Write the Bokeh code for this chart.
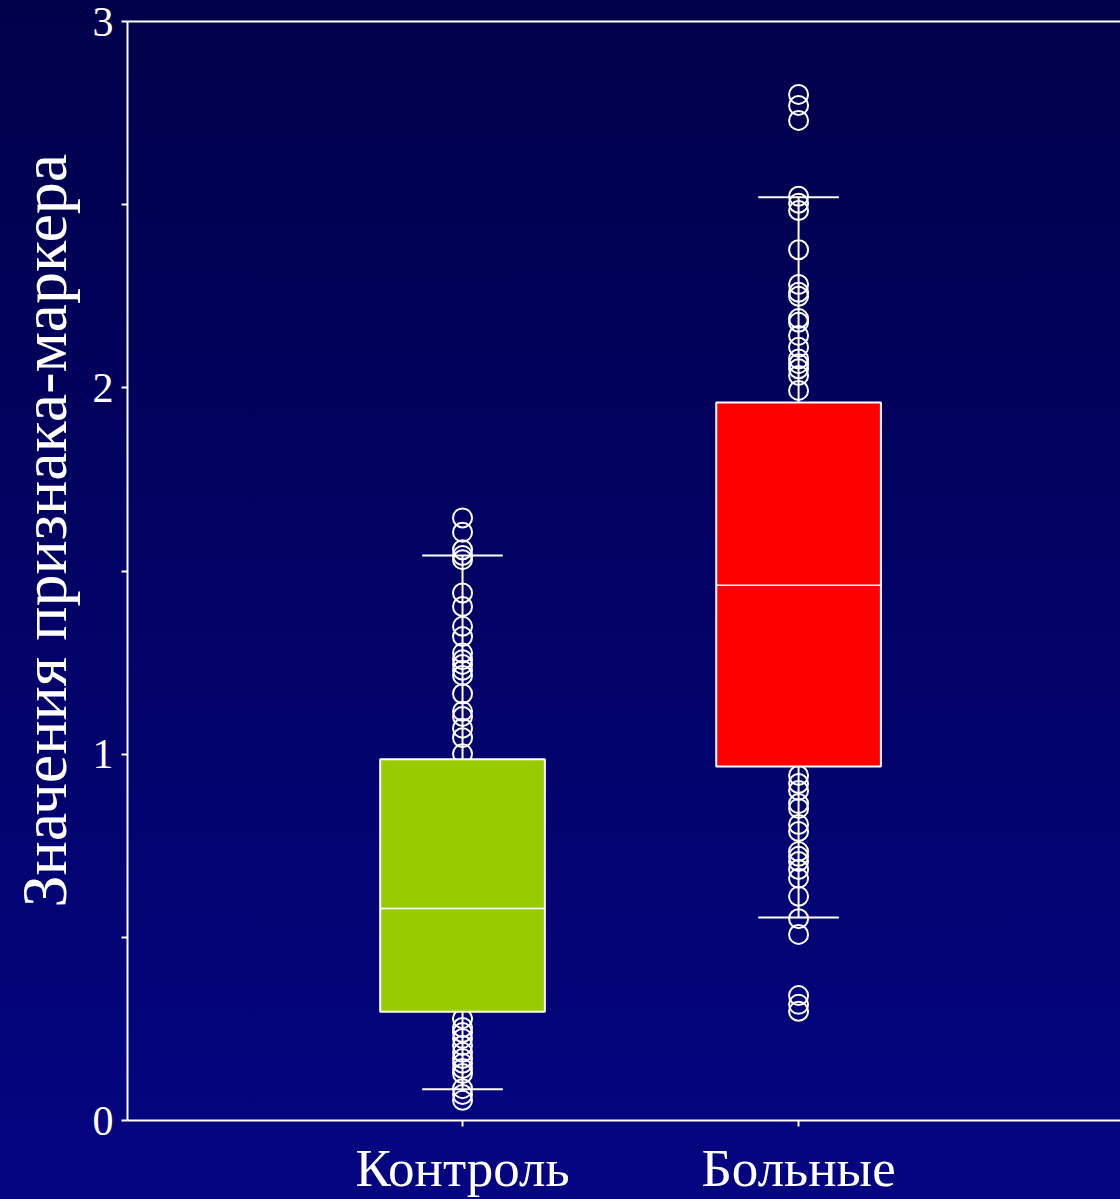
from bokeh.plotting import figure
from bokeh.models import Range1d, FixedTicker, LinearAxis, Title
from bokeh.embed import file_html
from bokeh.resources import INLINE

categories = ["Контроль", "Больные"]
positions = [1, 2]
box_colors = ["#99cc00", "#ff0000"]

q1 = [0.297, 0.966]
median = [0.579, 1.461]
q3 = [0.986, 1.960]
lower_whisker = [0.085, 0.554]
upper_whisker = [1.542, 2.520]

control_points = [1.645, 1.606, 1.558, 1.542, 1.531, 1.440, 1.403, 1.349, 1.321,
                  1.276, 1.258, 1.245, 1.229, 1.215, 1.165, 1.117, 1.103, 1.071,
                  1.045, 1.001,
                  0.278, 0.254, 0.240, 0.224, 0.205, 0.186, 0.169, 0.156, 0.142,
                  0.128, 0.087, 0.071, 0.055]
patient_points = [2.801, 2.771, 2.730, 2.523, 2.504, 2.484, 2.377, 2.282, 2.261,
                  2.250, 2.189, 2.179, 2.143, 2.111, 2.079, 2.066, 2.052, 2.034,
                  1.993,
                  0.942, 0.920, 0.901, 0.865, 0.852, 0.808, 0.789, 0.734, 0.721,
                  0.707, 0.685, 0.661, 0.612, 0.551, 0.508, 0.341, 0.317, 0.298]

y_ticks = [0, 1, 2, 3]
y_minor_ticks = [0.5, 1.5, 2.5]
y_label = "Значения признака-маркера"

FONT = "Liberation Serif"

p = figure(frame_width=993, frame_height=1099,
           x_range=Range1d(0.003, 2.958), y_range=Range1d(0, 3),
           output_backend="svg", toolbar_location=None,
           min_border_left=127, min_border_top=21, min_border_right=0,
           min_border_bottom=71)
p.styles = {"background": "linear-gradient(to bottom, #00004a, #050582)"}
p.border_fill_color = None
p.background_fill_color = None
p.outline_line_color = None
p.grid.visible = False

# y axis
p.yaxis.ticker = FixedTicker(ticks=y_ticks, minor_ticks=y_minor_ticks)
p.yaxis.axis_line_color = "white"
p.yaxis.axis_line_width = 2
p.yaxis.major_tick_line_color = "white"
p.yaxis.minor_tick_line_color = "white"
p.yaxis.major_tick_line_width = 2
p.yaxis.minor_tick_line_width = 2
p.yaxis.major_tick_out = 6
p.yaxis.major_tick_in = 0
p.yaxis.minor_tick_out = 6
p.yaxis.minor_tick_in = 0
p.yaxis.major_label_text_color = "white"
p.yaxis.major_label_text_font = FONT
p.yaxis.major_label_text_font_size = "42px"
p.yaxis.major_label_standoff = 8

# x axis
p.xaxis.ticker = FixedTicker(ticks=positions)
p.xaxis.major_label_overrides = {pos: cat for pos, cat in zip(positions, categories)}
p.xaxis.axis_line_color = "white"
p.xaxis.axis_line_width = 2
p.xaxis.major_tick_line_color = "white"
p.xaxis.major_tick_line_width = 2
p.xaxis.major_tick_out = 6
p.xaxis.major_tick_in = 0
p.xaxis.minor_tick_line_color = None
p.xaxis.major_label_text_color = "white"
p.xaxis.major_label_text_font = FONT
p.xaxis.major_label_text_font_size = "53px"
p.xaxis.major_label_standoff = 12

# top line
top_axis = LinearAxis(ticker=FixedTicker(ticks=[]), axis_line_color="white",
                      axis_line_width=2, major_tick_line_color=None,
                      minor_tick_line_color=None, major_label_text_font_size="0px")
p.add_layout(top_axis, "above")

# y label as a left-side title (allows an offset along the axis)
ytitle = Title(text=y_label, align="left", offset=213, standoff=16,
               vertical_align="top")
ytitle.text_color = "white"
ytitle.text_font = FONT
ytitle.text_font_size = "64px"
ytitle.text_font_style = "normal"
p.add_layout(ytitle, "left")

# points
p.scatter([positions[0]] * len(control_points), control_points, marker="circle",
          size=19, fill_color=None, line_color="white", line_width=2)
p.scatter([positions[1]] * len(patient_points), patient_points, marker="circle",
          size=19, fill_color=None, line_color="white", line_width=2)

# whiskers
p.segment(x0=positions, x1=positions, y0=q3, y1=upper_whisker,
          line_color="white", line_width=2)
p.segment(x0=positions, x1=positions, y0=q1, y1=lower_whisker,
          line_color="white", line_width=2)
cap = 0.12
p.segment(x0=[x - cap for x in positions], x1=[x + cap for x in positions],
          y0=upper_whisker, y1=upper_whisker, line_color="white", line_width=2)
p.segment(x0=[x - cap for x in positions], x1=[x + cap for x in positions],
          y0=lower_whisker, y1=lower_whisker, line_color="white", line_width=2)

# boxes
half = 0.245
p.quad(left=[x - half for x in positions], right=[x + half for x in positions],
       bottom=q1, top=q3, fill_color=box_colors, line_color="white", line_width=2)
p.segment(x0=[x - half for x in positions], x1=[x + half for x in positions],
          y0=median, y1=median, line_color="white", line_width=1.5)

open("out.html", "w").write(file_html(p, INLINE))
